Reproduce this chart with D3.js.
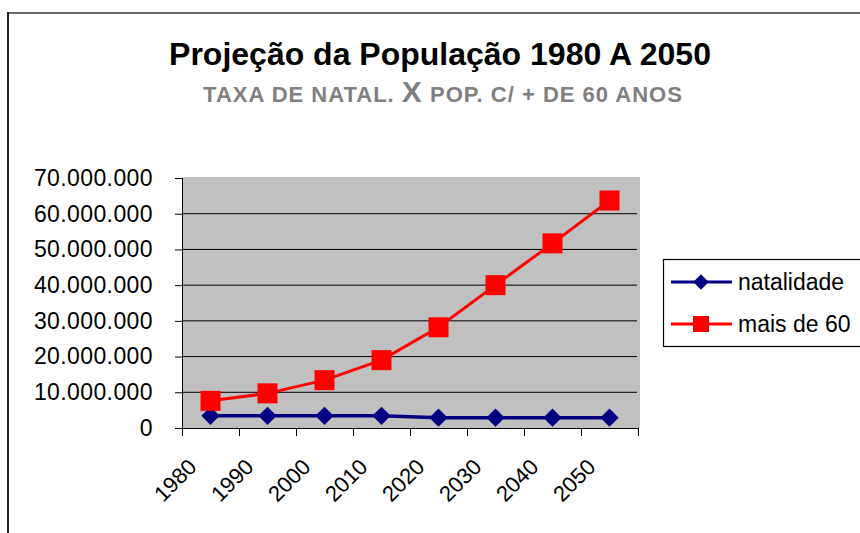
<!DOCTYPE html>
<html>
<head>
<meta charset="utf-8">
<script src="https://cdn.jsdelivr.net/npm/d3@7"></script>
<style>
  body { margin: 0; background: #fff; }
  svg { display: block; font-family: Arial, "Liberation Sans", sans-serif; }
</style>
</head>
<body>
<svg width="860" height="533"></svg>
<script>
// data
var years = ["1980", "1990", "2000", "2010", "2020", "2030", "2040", "2050"];
var natalidade = [3400000, 3400000, 3400000, 3400000, 2900000, 2900000, 2900000, 2900000];
var maisDe60 = [7600000, 9700000, 13400000, 19000000, 28200000, 40000000, 51700000, 63700000];
var yTicks = [0, 10000000, 20000000, 30000000, 40000000, 50000000, 60000000, 70000000];
var seriesNames = ["natalidade", "mais de 60"];

var svg = d3.select("svg");

// outer chart border
svg.append("line").attr("x1", 8).attr("y1", 13).attr("x2", 870).attr("y2", 13)
  .style("stroke", "#666").style("stroke-width", 2);
svg.append("line").attr("x1", 8).attr("y1", 12).attr("x2", 8).attr("y2", 540)
  .style("stroke", "#222").style("stroke-width", 2);

// Title
svg.append("text")
  .attr("x", 440).attr("y", 65)
  .attr("text-anchor", "middle")
  .style("font-size", "32px")
  .style("font-weight", "bold")
  .text("Projeção da População 1980 A 2050");

var sub = svg.append("text")
  .attr("x", 443).attr("y", 102)
  .attr("text-anchor", "middle")
  .style("font-size", "22px")
  .style("font-weight", "bold")
  .style("letter-spacing", "1px")
  .style("fill", "#808080");
sub.append("tspan").text("TAXA DE NATAL. ");
sub.append("tspan").style("font-size", "30px").text("X");
sub.append("tspan").text(" POP. C/ + DE 60 ANOS");

// scales
var xScale = d3.scaleBand().domain(years).range([182, 638]),
  yScale = d3.scaleLinear().domain([0, 70000000]).range([428, 178]);

// plot area
svg.append("rect")
  .attr("x", 182).attr("y", 177)
  .attr("width", 458).attr("height", 251)
  .style("fill", "#C0C0C0");

// gridlines
svg.append("g")
  .selectAll("line")
  .data(yTicks.filter(function (d) { return d > 0 && d < 70000000; }))
  .enter()
  .append("line")
  .attr("x1", 182).attr("x2", 637)
  .attr("y1", function (d) { return yScale(d); })
  .attr("y2", function (d) { return yScale(d); })
  .style("stroke", "#000").style("stroke-width", 1);

// Y axis
var fmt = function (d) { return d3.format(",")(d).replace(/,/g, "."); };
var yAxis = svg.append("g")
  .attr("transform", "translate(182,0)")
  .call(d3.axisLeft(yScale).tickValues(yTicks).tickSize(7).tickPadding(22).tickFormat(fmt));
yAxis.select(".domain").style("stroke", "#000");
yAxis.selectAll("text")
  .style("font-size", "23px")
  .style("letter-spacing", "0.4px")
  .style("font-family", "Arial, 'Liberation Sans', sans-serif")
  .style("fill", "#000");

// X axis
svg.append("line")
  .attr("x1", 182).attr("x2", 639)
  .attr("y1", 428.5).attr("y2", 428.5)
  .style("stroke", "#000");
var edges = years.map(function (d) { return xScale(d); }).concat([xScale.range()[1]]);
svg.append("g")
  .selectAll("line")
  .data(edges)
  .enter()
  .append("line")
  .attr("x1", function (d) { return Math.round(d) + 0.5; })
  .attr("x2", function (d) { return Math.round(d) + 0.5; })
  .attr("y1", 428).attr("y2", 436)
  .style("stroke", "#000");

svg.append("g")
  .selectAll("text")
  .data(years)
  .enter()
  .append("text")
  .attr("text-anchor", "end")
  .attr("dominant-baseline", "central")
  .attr("transform", function (d) {
    var cx = xScale(d) + xScale.bandwidth() / 2 - 18;
    return "translate(" + cx + ",463)rotate(-45)";
  })
  .style("font-size", "22px")
  .text(function (d) { return d; });

// lines
var cx = function (d, i) { return xScale(years[i]) + xScale.bandwidth() / 2; };
var line = d3.line()
  .x(cx)
  .y(function (d) { return yScale(d); });

svg.append("path")
  .datum(natalidade)
  .attr("d", line)
  .style("fill", "none")
  .style("stroke", "#000080")
  .style("stroke-width", 3.5);

svg.append("path")
  .datum(maisDe60)
  .attr("d", line)
  .style("fill", "none")
  .style("stroke", "#FF0000")
  .style("stroke-width", 3);

// markers
svg.append("g")
  .selectAll("rect")
  .data(natalidade)
  .enter()
  .append("rect")
  .attr("x", -6.5).attr("y", -6.5)
  .attr("width", 13).attr("height", 13)
  .attr("transform", function (d, i) {
    return "translate(" + cx(d, i) + "," + yScale(d) + ")rotate(45)";
  })
  .style("fill", "#000080");

svg.append("g")
  .selectAll("rect")
  .data(maisDe60)
  .enter()
  .append("rect")
  .attr("x", function (d, i) { return cx(d, i) - 10; })
  .attr("y", function (d) { return yScale(d) - 10; })
  .attr("width", 20).attr("height", 20)
  .style("fill", "#FF0000");

// Legend
var legend = svg.append("g");
legend.append("rect")
  .attr("x", 663.5).attr("y", 259.5)
  .attr("width", 220).attr("height", 87)
  .style("fill", "#fff")
  .style("stroke", "#000")
  .style("stroke-width", 1.2);

var legendColors = ["#000080", "#FF0000"];
var legendY = [282, 324];
seriesNames.forEach(function (name, i) {
  legend.append("line")
    .attr("x1", 671).attr("x2", 732)
    .attr("y1", legendY[i]).attr("y2", legendY[i])
    .style("stroke", legendColors[i])
    .style("stroke-width", 3);
  if (i === 0) {
    legend.append("rect")
      .attr("x", -5.5).attr("y", -5.5)
      .attr("width", 11).attr("height", 11)
      .attr("transform", "translate(701," + legendY[i] + ")rotate(45)")
      .style("fill", legendColors[i]);
  } else {
    legend.append("rect")
      .attr("x", 693).attr("y", legendY[i] - 8)
      .attr("width", 16).attr("height", 16)
      .style("fill", legendColors[i]);
  }
  legend.append("text")
    .attr("x", 738).attr("y", legendY[i])
    .attr("dominant-baseline", "central")
    .style("font-size", "23px")
    .text(name);
});
</script>
</body>
</html>
